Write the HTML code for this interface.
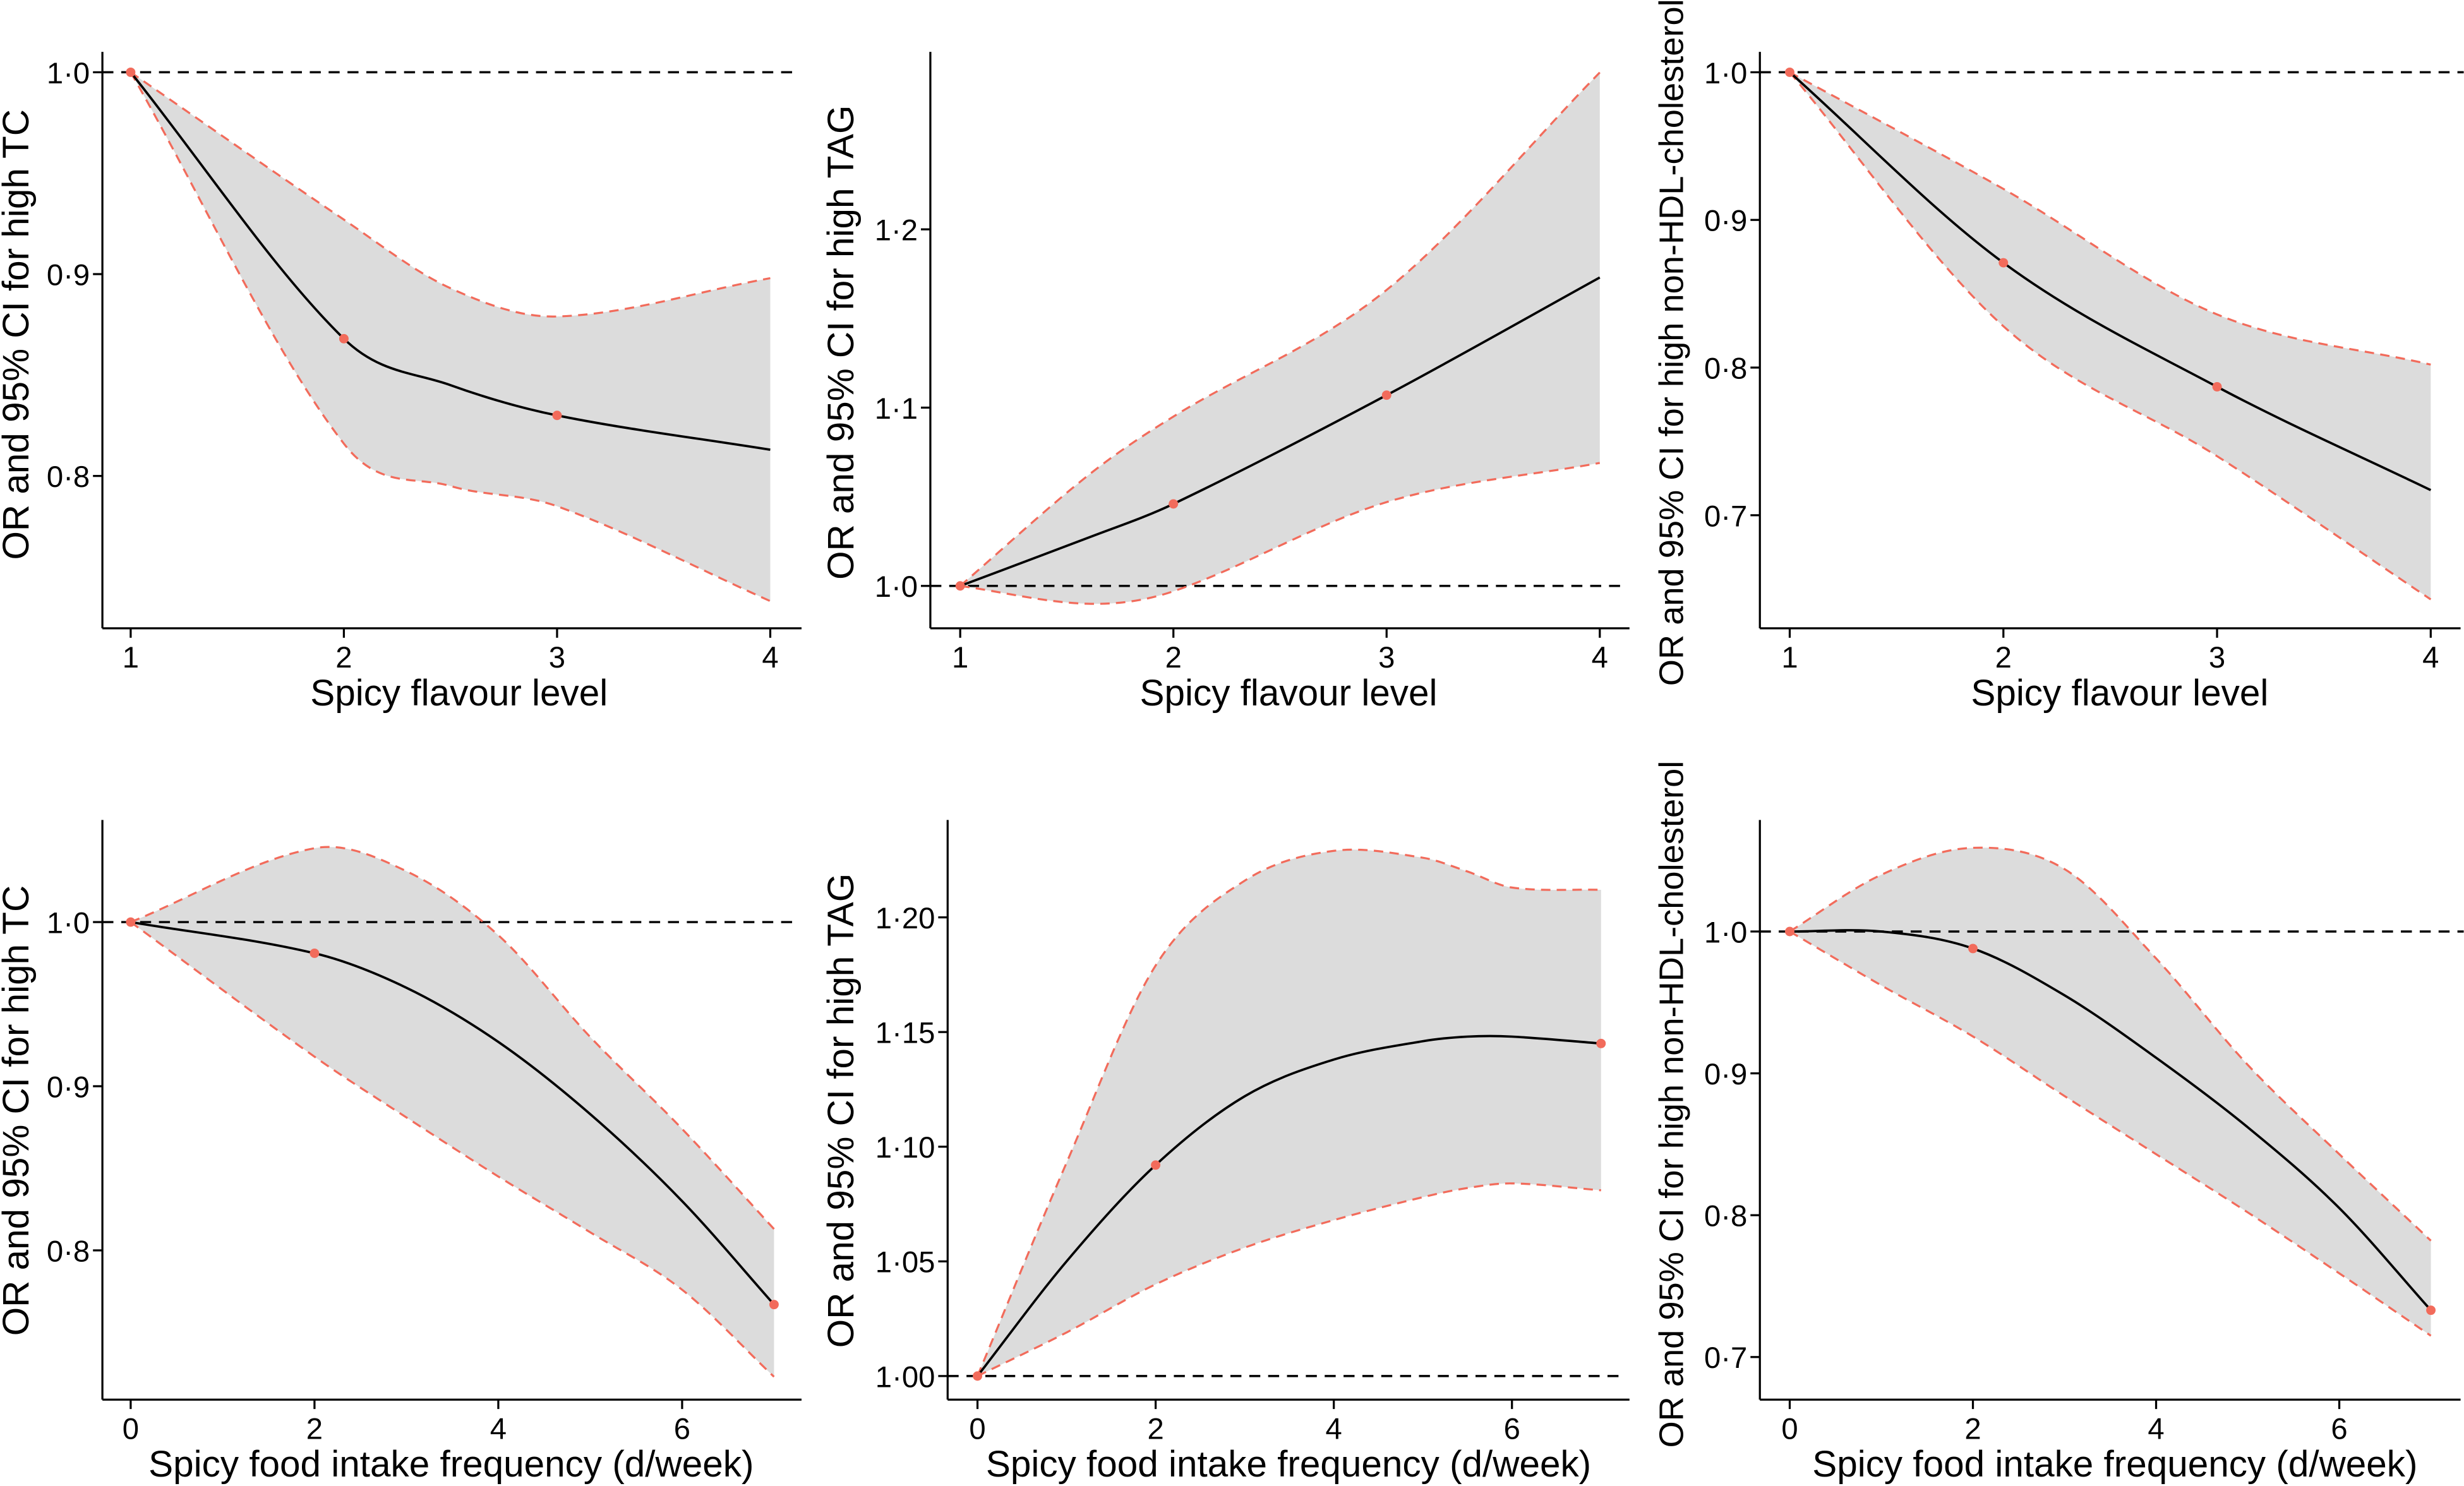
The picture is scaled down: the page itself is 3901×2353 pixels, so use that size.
<!DOCTYPE html>
<html><head><meta charset="utf-8">
<style>
html,body{margin:0;padding:0;background:#fff;}
svg{display:block;}
text{font-family:"Liberation Sans",Arial,sans-serif;fill:#000;}
</style></head>
<body>
<svg id="chart" width="3901" height="2353" viewBox="0 0 1568 946" xmlns="http://www.w3.org/2000/svg"></svg>
<script>
// ---- data ----
const p1X = [1, 2, 2.5, 3, 4];
const p1Est = [1.0, 0.868, 0.845, 0.830, 0.813];
const p1Up = [1.0, 0.927, 0.893, 0.879, 0.898];
const p1Lo = [1.0, 0.816, 0.795, 0.785, 0.738];
const p1Pts = [1, 2, 3];
const p1YTicks = [1.0, 0.9, 0.8];
const p1YLabels = ["1·0", "0·9", "0·8"];
const p1XTicks = [1, 2, 3, 4];

const p2X = [1, 1.6, 2, 3, 4];
const p2Est = [1.0, 1.027, 1.046, 1.107, 1.173];
const p2Up = [1.0, 1.062, 1.095, 1.166, 1.288];
const p2Lo = [1.0, 0.990, 0.997, 1.047, 1.069];
const p2Pts = [1, 2, 3];
const p2YTicks = [1.0, 1.1, 1.2];
const p2YLabels = ["1·0", "1·1", "1·2"];
const p2XTicks = [1, 2, 3, 4];

const p3X = [1, 2, 3, 4];
const p3Est = [1.0, 0.871, 0.787, 0.717];
const p3Up = [1.0, 0.921, 0.836, 0.802];
const p3Lo = [1.0, 0.828, 0.740, 0.643];
const p3Pts = [1, 2, 3];
const p3YTicks = [1.0, 0.9, 0.8, 0.7];
const p3YLabels = ["1·0", "0·9", "0·8", "0·7"];
const p3XTicks = [1, 2, 3, 4];

const p4X = [0, 2, 3, 4, 5, 6, 7];
const p4Est = [1.0, 0.981, 0.960, 0.927, 0.883, 0.830, 0.767];
const p4Up = [1.0, 1.045, 1.031, 0.992, 0.930, 0.874, 0.813];
const p4Lo = [1.0, 0.918, 0.881, 0.845, 0.811, 0.776, 0.723];
const p4Pts = [0, 2, 7];
const p4PtVals = [1.0, 0.981, 0.767];
const p4YTicks = [1.0, 0.9, 0.8];
const p4YLabels = ["1·0", "0·9", "0·8"];
const p4XTicks = [0, 2, 4, 6];

const p5X = [0, 1, 2, 3, 4, 5, 5.5, 6, 7];
const p5Est = [1.0, 1.050, 1.092, 1.122, 1.138, 1.146, 1.148, 1.148, 1.145];
const p5Up = [1.0, 1.093, 1.179, 1.216, 1.229, 1.226, 1.220, 1.213, 1.212];
const p5Lo = [1.0, 1.019, 1.040, 1.056, 1.068, 1.078, 1.082, 1.084, 1.081];
const p5Pts = [0, 2, 7];
const p5PtVals = [1.0, 1.092, 1.145];
const p5YTicks = [1.00, 1.05, 1.10, 1.15, 1.20];
const p5YLabels = ["1·00", "1·05", "1·10", "1·15", "1·20"];
const p5XTicks = [0, 2, 4, 6];

const p6X = [0, 1, 2, 3, 4, 5, 6, 7];
const p6Est = [1.0, 1.0, 0.988, 0.955, 0.911, 0.862, 0.805, 0.733];
const p6Up = [1.0, 1.040, 1.059, 1.044, 0.981, 0.906, 0.843, 0.782];
const p6Lo = [1.0, 0.962, 0.926, 0.884, 0.843, 0.802, 0.759, 0.715];
const p6Pts = [0, 2, 7];
const p6PtVals = [1.0, 0.988, 0.733];
const p6YTicks = [1.0, 0.9, 0.8, 0.7];
const p6YLabels = ["1·0", "0·9", "0·8", "0·7"];
const p6XTicks = [0, 2, 4, 6];

// ---- layout ----
const svg = document.getElementById('chart');
const NS = 'http://www.w3.org/2000/svg';
function mk(tag, attrs, parent) {
  const e = document.createElementNS(NS, tag);
  for (const k in attrs) e.setAttribute(k, attrs[k]);
  (parent || svg).appendChild(e);
  return e;
}
// Hermite spline with finite-difference tangents (handles uneven spacing)
function crPath(pts) {
  const n = pts.length;
  const m = pts.map((p, i) => {
    const a = pts[Math.max(0, i - 1)], b = pts[Math.min(n - 1, i + 1)];
    return (b[1] - a[1]) / (b[0] - a[0]);
  });
  let d = 'M' + pts[0][0].toFixed(2) + ',' + pts[0][1].toFixed(2);
  for (let i = 0; i < n - 1; i++) {
    const p1 = pts[i], p2 = pts[i + 1];
    const dx = (p2[0] - p1[0]) / 3;
    const c1 = [p1[0] + dx, p1[1] + m[i] * dx];
    const c2 = [p2[0] - dx, p2[1] - m[i + 1] * dx];
    d += 'C' + c1[0].toFixed(2) + ',' + c1[1].toFixed(2) + ' ' + c2[0].toFixed(2) + ',' + c2[1].toFixed(2) + ' ' + p2[0].toFixed(2) + ',' + p2[1].toFixed(2);
  }
  return d;
}
function crPathRev(pts) {
  const n = pts.length;
  const m = pts.map((p, i) => {
    const a = pts[Math.max(0, i - 1)], b = pts[Math.min(n - 1, i + 1)];
    return (b[1] - a[1]) / (b[0] - a[0]);
  });
  let d = 'L' + pts[n - 1][0].toFixed(2) + ',' + pts[n - 1][1].toFixed(2);
  for (let i = n - 1; i > 0; i--) {
    const p1 = pts[i], p2 = pts[i - 1];
    const dx = (p1[0] - p2[0]) / 3;
    const c1 = [p1[0] - dx, p1[1] - m[i] * dx];
    const c2 = [p2[0] + dx, p2[1] + m[i - 1] * dx];
    d += 'C' + c1[0].toFixed(2) + ',' + c1[1].toFixed(2) + ' ' + c2[0].toFixed(2) + ',' + c2[1].toFixed(2) + ' ' + p2[0].toFixed(2) + ',' + p2[1].toFixed(2);
  }
  return d;
}

function panel(cfg) {
  const g = mk('g', {});
  
  
  const sx = v => cfg.x0 + (v - cfg.xa) * cfg.xs;
  const sy = v => cfg.y0 - (v - 1) * cfg.ys;
  const up = cfg.X.map((x, i) => [sx(x), sy(cfg.Up[i])]);
  const lo = cfg.X.map((x, i) => [sx(x), sy(cfg.Lo[i])]);
  const est = cfg.X.map((x, i) => [sx(x), sy(cfg.Est[i])]);
  const band = mk('path', { d: crPath(up) + crPathRev(lo) + 'Z', fill: '#dcdcdc', stroke: 'none' }, g);
  
  
  const ref = mk('line', { x1: cfg.axX, x2: cfg.refEnd, y1: sy(1), y2: sy(1), stroke: '#000', 'stroke-width': 1.4, 'stroke-dasharray': '7,5' }, g);
  
  
  const u = mk('path', { d: crPath(up), fill: 'none', stroke: '#f26b5b', 'stroke-width': 1.3, 'stroke-dasharray': '6,4' }, g);
  
  
  const l = mk('path', { d: crPath(lo), fill: 'none', stroke: '#f26b5b', 'stroke-width': 1.3, 'stroke-dasharray': '6,4' }, g);
  
  
  const e = mk('path', { d: crPath(est), fill: 'none', stroke: '#000', 'stroke-width': 1.5 }, g);
  
  
  cfg.Pts.forEach((x, i) => {
    const v = cfg.PtVals ? cfg.PtVals[i] : cfg.Est[cfg.X.indexOf(x)];
    const c = mk('circle', { cx: sx(x), cy: sy(v), r: 3, fill: '#f26b5b' }, g);
    
    
  });
  const ya = mk('line', { x1: cfg.axX, x2: cfg.axX, y1: cfg.axTop, y2: cfg.axY, stroke: '#000', 'stroke-width': 1.3 }, g);
  
  
  const xa = mk('line', { x1: cfg.axX, x2: cfg.axRight, y1: cfg.axY, y2: cfg.axY, stroke: '#000', 'stroke-width': 1.3 }, g);
  
  
  cfg.YT.forEach((v, i) => {
    mk('line', { x1: cfg.axX - 6, x2: cfg.axX, y1: sy(v), y2: sy(v), stroke: '#000', 'stroke-width': 1.3 }, g);
    const t = mk('text', { x: cfg.axX - 8, y: sy(v) + 7, 'text-anchor': 'end', 'font-size': 19 }, g);
    t.textContent = cfg.YL[i];
    
    
  });
  cfg.XT.forEach(v => {
    mk('line', { x1: sx(v), x2: sx(v), y1: cfg.axY, y2: cfg.axY + 6, stroke: '#000', 'stroke-width': 1.3 }, g);
    const t = mk('text', { x: sx(v), y: cfg.axY + 25, 'text-anchor': 'middle', 'font-size': 19 }, g);
    t.textContent = String(v);
    
    
  });
  const xt = mk('text', { x: cfg.xTitleX, y: cfg.axY + 49, 'text-anchor': 'middle', 'font-size': 23.5 }, g);
  xt.textContent = cfg.xTitle;
  
  
  const yt = mk('text', { x: 0, y: 0, 'text-anchor': 'middle', 'font-size': cfg.yTitleSize || 23.5, transform: 'translate(' + cfg.yTitleX + ',' + cfg.yTitleY + ') rotate(-90)' }, g);
  yt.textContent = cfg.yTitle;
  
  
}

panel({ name: 'panel-tc-flavour', X: p1X, Est: p1Est, Up: p1Up, Lo: p1Lo, Pts: p1Pts, YT: p1YTicks, YL: p1YLabels, XT: p1XTicks,
  x0: 83, xa: 1, xs: 135.7, y0: 46, ys: 1285, axX: 65, axY: 400, axTop: 33, axRight: 510, refEnd: 508,
  xTitle: 'Spicy flavour level', xTitleX: 292, yTitle: 'OR and 95% CI for high TC', yTitleX: 18, yTitleY: 213 });
panel({ name: 'panel-tag-flavour', X: p2X, Est: p2Est, Up: p2Up, Lo: p2Lo, Pts: p2Pts, YT: p2YTicks, YL: p2YLabels, XT: p2XTicks,
  x0: 611, xa: 1, xs: 135.7, y0: 373, ys: 1135, axX: 592, axY: 400, axTop: 33, axRight: 1037, refEnd: 1035,
  xTitle: 'Spicy flavour level', xTitleX: 820, yTitle: 'OR and 95% CI for high TAG', yTitleX: 543, yTitleY: 218 });
panel({ name: 'panel-nonhdl-flavour', X: p3X, Est: p3Est, Up: p3Up, Lo: p3Lo, Pts: p3Pts, YT: p3YTicks, YL: p3YLabels, XT: p3XTicks,
  x0: 1139, xa: 1, xs: 136, y0: 46, ys: 940, axX: 1120, axY: 400, axTop: 33, axRight: 1566, refEnd: 1568,
  xTitle: 'Spicy flavour level', xTitleX: 1349, yTitle: 'OR and 95% CI for high non-HDL-cholesterol', yTitleX: 1071, yTitleY: 218, yTitleSize: 21.8 });
panel({ name: 'panel-tc-frequency', X: p4X, Est: p4Est, Up: p4Up, Lo: p4Lo, Pts: p4Pts, PtVals: p4PtVals, YT: p4YTicks, YL: p4YLabels, XT: p4XTicks,
  x0: 83, xa: 0, xs: 58.5, y0: 587, ys: 1045, axX: 65, axY: 891, axTop: 522, axRight: 510, refEnd: 508,
  xTitle: 'Spicy food intake frequency (d/week)', xTitleX: 287, yTitle: 'OR and 95% CI for high TC', yTitleX: 18, yTitleY: 707 });
panel({ name: 'panel-tag-frequency', X: p5X, Est: p5Est, Up: p5Up, Lo: p5Lo, Pts: p5Pts, PtVals: p5PtVals, YT: p5YTicks, YL: p5YLabels, XT: p5XTicks,
  x0: 622, xa: 0, xs: 56.7, y0: 876, ys: 1460, axX: 603, axY: 891, axTop: 522, axRight: 1037, refEnd: 1035,
  xTitle: 'Spicy food intake frequency (d/week)', xTitleX: 820, yTitle: 'OR and 95% CI for high TAG', yTitleX: 543, yTitleY: 707 });
panel({ name: 'panel-nonhdl-frequency', X: p6X, Est: p6Est, Up: p6Up, Lo: p6Lo, Pts: p6Pts, PtVals: p6PtVals, YT: p6YTicks, YL: p6YLabels, XT: p6XTicks,
  x0: 1139, xa: 0, xs: 58.3, y0: 593, ys: 903, axX: 1120, axY: 891, axTop: 522, axRight: 1566, refEnd: 1568,
  xTitle: 'Spicy food intake frequency (d/week)', xTitleX: 1346, yTitle: 'OR and 95% CI for high non-HDL-cholesterol', yTitleX: 1071, yTitleY: 703, yTitleSize: 21.8 });
</script>
</body></html>
